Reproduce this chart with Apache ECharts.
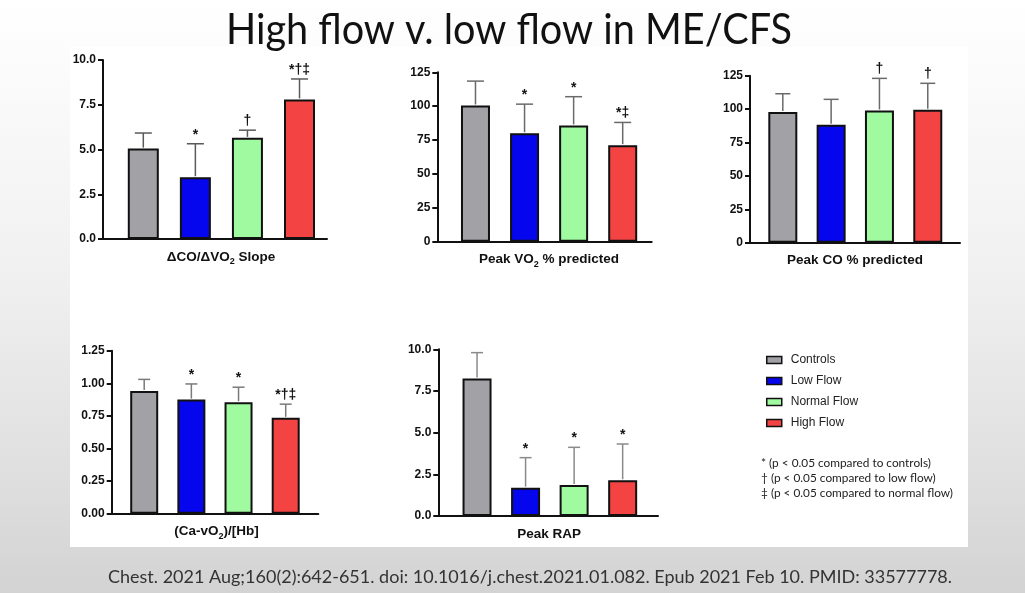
<!DOCTYPE html>
<html>
<head>
<meta charset="utf-8">
<title>High flow v. low flow in ME/CFS</title>
<script src="https://cdn.jsdelivr.net/npm/echarts@6/dist/echarts.min.js"></script>
<style>
  html, body { margin: 0; padding: 0; }
  #main { width: 1025px; height: 593px; }
</style>
</head>
<body>
<div id="main"></div>
<script>
// groups shown in every panel
const groups = ['Controls', 'Low Flow', 'Normal Flow', 'High Flow']
const groupColors = ['#a1a1a6', '#0606ee', '#a0fa9f', '#f44343']

// panel 1: ΔCO/ΔVO2 slope
const slopeMean = [5.05, 3.45, 5.65, 7.8]
const slopeErrTop = [5.92, 5.32, 6.08, 8.94]
const slopeMarks = ['', '*', '†', '*†‡']
const slopeTicks = ['0.0', '2.5', '5.0', '7.5', '10.0']

// panel 2: peak VO2 % predicted
const vo2Mean = [100.5, 80, 85.8, 71.2]
const vo2ErrTop = [118.5, 101.5, 107, 88]
const vo2Marks = ['', '*', '*', '*‡']
const vo2Ticks = ['0', '25', '50', '75', '100', '125']

// panel 3: peak CO % predicted
const coMean = [97.8, 88.2, 99, 99.5]
const coErrTop = [111.5, 107.3, 123, 119.3]
const coMarks = ['', '', '†', '†']
const coTicks = ['0', '25', '50', '75', '100', '125']

// panel 4: (Ca-vO2)/[Hb]
const cavMean = [0.94, 0.875, 0.855, 0.735]
const cavErrTop = [1.03, 0.995, 0.97, 0.84]
const cavMarks = ['', '*', '*', '*†‡']
const cavTicks = ['0.00', '0.25', '0.50', '0.75', '1.00', '1.25']

// panel 5: peak RAP
const rapMean = [8.25, 1.7, 1.86, 2.14]
const rapErrTop = [9.8, 3.5, 4.12, 4.32]
const rapMarks = ['', '*', '*', '*']
const rapTicks = ['0.0', '2.5', '5.0', '7.5', '10.0']

const panelNames = [
    '{n|\u0394CO/\u0394VO}{s|2}{n| Slope}',
    '{n|Peak VO}{s|2}{n| % predicted}',
    '{n|Peak CO % predicted}',
    '{n|(Ca-vO}{s|2}{n|)/[Hb]}',
    '{n|Peak RAP}'
]

const titleText = 'High flow v. low flow in ME/CFS'
const citeText = 'Chest. 2021 Aug;160(2):642-651. doi: 10.1016/j.chest.2021.01.082. Epub 2021 Feb 10. PMID: 33577778.'
const noteLines = [
    '* (p < 0.05 compared to controls)',
    '\u2020 (p < 0.05 compared to low flow)',
    '\u2021 (p < 0.05 compared to normal flow)'
]

const FONT = "'Liberation Sans', Arial, sans-serif"

// layout of the five small charts
const panels = [
    {mean: slopeMean, err: slopeErrTop, marks: slopeMarks, ticks: slopeTicks,
     left: 103, top: 60, width: 224, height: 179, xMin: -0.774, xMax: 3.528, bar: 31, cap: 17, errColor: '#5a5a5a', namePad: [0, 0, 0, 12]},
    {mean: vo2Mean, err: vo2ErrTop, marks: vo2Marks, ticks: vo2Ticks,
     left: 437.3, top: 72.3, width: 214.4, height: 169.4, xMin: -0.778, xMax: 3.591, bar: 29, cap: 17, errColor: '#6a6a6a', namePad: [0, 0, 0, 9]},
    {mean: coMean, err: coErrTop, marks: coMarks, ticks: coTicks,
     left: 750, top: 75.7, width: 210, height: 167, xMin: -0.679, xMax: 3.667, bar: 29, cap: 15, errColor: '#6a6a6a', namePad: [0, 0, 0, 0]},
    {mean: cavMean, err: cavErrTop, marks: cavMarks, ticks: cavTicks,
     left: 111.7, top: 350.7, width: 206.6, height: 163, xMin: -0.689, xMax: 3.691, bar: 28, cap: 12, errColor: '#7a7a7a', namePad: [0, 0, 0, 3]},
    {mean: rapMean, err: rapErrTop, marks: rapMarks, ticks: rapTicks,
     left: 438.3, top: 349.3, width: 219.7, height: 166.7, xMin: -0.798, xMax: 3.728, bar: 29, cap: 12, errColor: '#8a8a8a', namePad: [0, 0, 0, 2]}
]

function fitScale(text, font, width) {
    const ctx = document.createElement('canvas').getContext('2d')
    ctx.font = font
    return width / ctx.measureText(text).width
}

const grids = [], xAxes = [], yAxes = [], series = []

panels.forEach((p, k) => {
    const tickVals = p.ticks.map(t => parseFloat(t))
    grids.push({left: p.left, top: p.top, width: p.width, height: p.height, containLabel: false, outerBoundsMode: 'none'})
    xAxes.push({
        gridIndex: k, type: 'value', min: p.xMin, max: p.xMax,
        axisLine: {show: true, onZero: false, lineStyle: {color: '#111', width: 2}},
        axisTick: {show: false}, axisLabel: {show: false}, splitLine: {show: false},
        name: panelNames[k], nameLocation: 'middle', nameGap: 10,
        nameTextStyle: {
            padding: p.namePad,
            rich: {
                n: {fontFamily: FONT, fontSize: 13.5, fontWeight: 'bold', color: '#111', lineHeight: 16},
                s: {fontFamily: FONT, fontSize: 9, fontWeight: 'bold', color: '#111', lineHeight: 10, padding: [9, 0, 0, 0]}
            }
        }
    })
    yAxes.push({
        gridIndex: k, type: 'value', min: tickVals[0], max: tickVals[tickVals.length - 1],
        interval: tickVals[1] - tickVals[0],
        axisLine: {show: true, onZero: false, lineStyle: {color: '#111', width: 2}},
        axisTick: {show: true, inside: false, length: 5, lineStyle: {color: '#111', width: 2}},
        axisLabel: {
            margin: 7, fontFamily: FONT, fontSize: 12, fontWeight: 'bold', color: '#111',
            formatter: v => {
                const i = tickVals.findIndex(t => Math.abs(t - v) < 1e-9)
                return i >= 0 ? p.ticks[i] : ''
            }
        },
        splitLine: {show: false}
    })
    groups.forEach((g, i) => {
        series.push({
            name: g, type: 'bar', xAxisIndex: k, yAxisIndex: k,
            barWidth: p.bar, barGap: '-100%',
            data: [[i, p.mean[i]]],
            itemStyle: {color: groupColors[i], borderColor: '#111', borderWidth: 2},
            emphasis: {disabled: true}
        })
    })
    series.push({
        type: 'custom', xAxisIndex: k, yAxisIndex: k, silent: true,
        data: groups.map((g, i) => [i, p.mean[i], p.err[i]]),
        encode: {x: 0, y: [1, 2]},
        renderItem: (params, api) => {
            const base = api.coord([api.value(0), api.value(1)])
            const top = api.coord([api.value(0), api.value(2)])
            const stroke = {stroke: p.errColor, lineWidth: 1.5}
            return {
                type: 'group',
                children: [
                    {type: 'line', shape: {x1: base[0], y1: base[1] - 1, x2: top[0], y2: top[1]}, style: stroke},
                    {type: 'line', shape: {x1: top[0] - p.cap / 2, y1: top[1], x2: top[0] + p.cap / 2, y2: top[1]}, style: stroke},
                    {type: 'text', x: top[0], y: top[1] - 2, style: {
                        text: p.marks[params.dataIndex], fill: '#111',
                        font: 'bold 14px ' + FONT, align: 'center', verticalAlign: 'bottom'
                    }}
                ]
            }
        }
    })
})

const titleFont = "42px Lato, 'Open Sans', sans-serif"
const citeFont = "17px Lato, 'Open Sans', sans-serif"
const noteFont = "12px Lato, 'Open Sans', sans-serif"
const titleScale = fitScale(titleText, titleFont, 566)
const citeScale = fitScale(citeText, citeFont, 844)
const noteScale = fitScale(noteLines[2], noteFont, 192)

const graphic = [
    {type: 'rect', z: -10, shape: {x: 70, y: 47, width: 898, height: 500}, style: {fill: '#ffffff'}},
    {type: 'text', z: 10, x: 226, y: 30, scaleX: titleScale,
     style: {text: titleText, font: titleFont, fill: '#111', align: 'left', verticalAlign: 'middle'}},
    {type: 'text', z: 10, x: 108, y: 578, scaleX: citeScale,
     style: {text: citeText, font: citeFont, fill: '#333', align: 'left', verticalAlign: 'middle'}}
]
noteLines.forEach((t, i) => {
    graphic.push({type: 'text', z: 10, x: 761, y: 463 + i * 15, scaleX: noteScale,
        style: {text: t, font: noteFont, fill: '#222', align: 'left', verticalAlign: 'middle'}})
})

const chart = echarts.init(document.getElementById('main'))
chart.setOption({
    animation: false,
    backgroundColor: {
        type: 'linear', x: 0, y: 0, x2: 0, y2: 1,
        colorStops: [
            {offset: 0, color: '#ffffff'},
            {offset: 0.45, color: '#f1f1f1'},
            {offset: 0.8, color: '#dfdfdf'},
            {offset: 1, color: '#d3d3d3'}
        ]
    },
    legend: {
        data: groups, orient: 'vertical', left: 766, top: 353, padding: 0,
        itemWidth: 15, itemHeight: 7, itemGap: 7, icon: 'rect',
        itemStyle: {borderColor: '#111', borderWidth: 1.5},
        textStyle: {fontFamily: FONT, fontSize: 12, color: '#222', lineHeight: 14, padding: [0, 0, 0, 4]}
    },
    graphic: graphic,
    grid: grids,
    xAxis: xAxes,
    yAxis: yAxes,
    series: series
})
</script>
</body>
</html>
